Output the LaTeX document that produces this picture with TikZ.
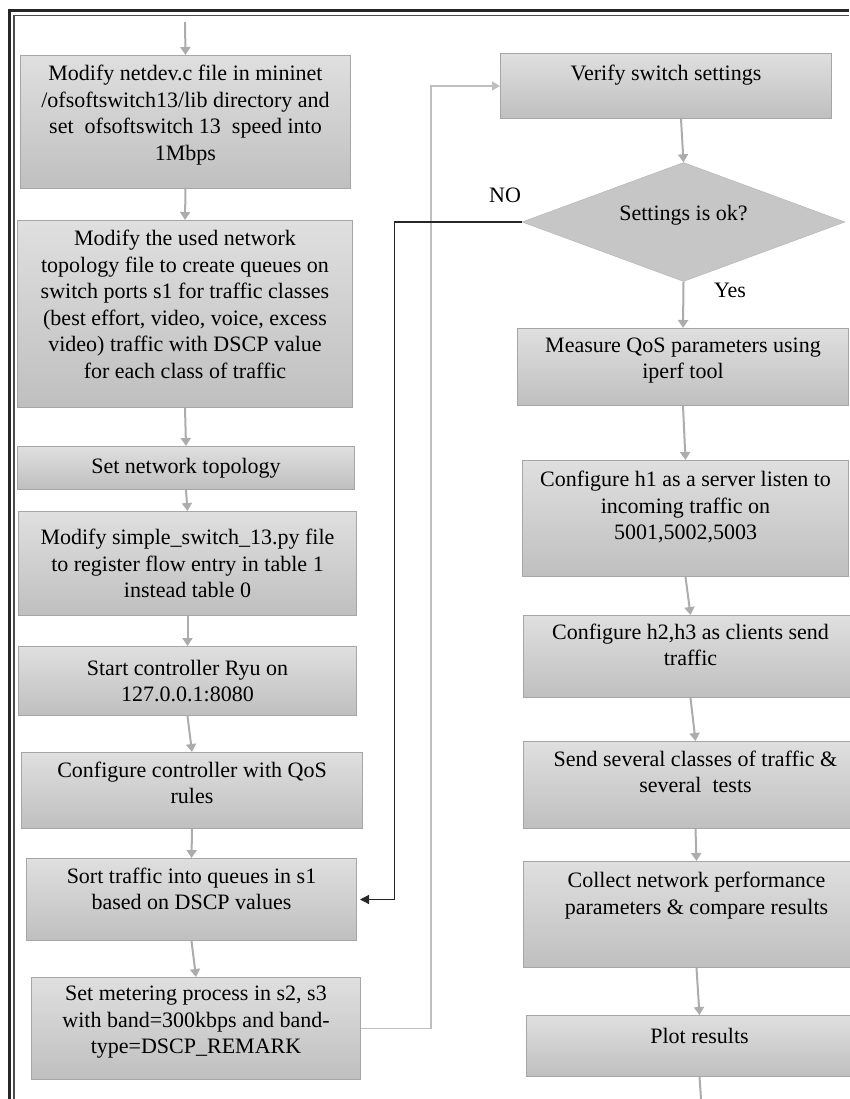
\documentclass[tikz,border=0pt]{standalone}
\usepackage{fontspec}
\setmainfont{Liberation Serif}
\usetikzlibrary{calc}
\usetikzlibrary{shapes.geometric, arrows.meta}

\newcommand{\boxfont}{\fontsize{22}{26.5}\selectfont}
\newcommand{\padline}[1]{\\[#1]\mbox{}}

\tikzstyle{stepbox} = [rectangle, 
anchor=north west, 
align=center, 
inner sep=0pt, 
draw=gray!70, 
line width=1pt, 
top color=gray!25, 
bottom color=gray!50, 
font=\boxfont]
\tikzstyle{decision} = [diamond, 
aspect=2.7, 
minimum width=323pt, 
minimum height=119pt, 
inner sep=0pt, 
align=center, 
draw=gray!60, 
fill=gray!45, 
font=\boxfont]
\tikzstyle{lbl} = [font=\boxfont, inner sep=0pt]
\tikzstyle{arrow} = [line width=2pt, gray!65, -{Triangle[width=10pt,length=8pt]}]
\tikzstyle{looparrow} = [line width=1.5pt, gray!50, -{Triangle[width=9pt,length=8pt]}]
\tikzstyle{noarrow} = [line width=1.3pt, black!85, -{Triangle[width=9pt,length=9pt]}, shorten >=3pt]

\begin{document}
\begin{tikzpicture}[x=1pt, y=-1pt]
    \useasboundingbox (0,0) rectangle (849,1099);

    % page frame
    \draw [line width=2.4pt, black!85] (9.5,1099) -- (9.5,10.5) -- (849,10.5);
    \draw [line width=1.2pt, black!70] (14,1099) -- (14,15.5) -- (849,15.5);

    % left column
    \coordinate (start) at (185,22);
    \node (modnet) [stepbox, minimum width=330pt, minimum height=133pt] at (20,55)
        {Modify netdev.c file in mininet\\/ofsoftswitch13/lib directory and\\set\ \ ofsoftswitch 13\ \ speed into\\1Mbps\padline{-8pt}};
    \node (modtopo) [stepbox, minimum width=335pt, minimum height=187pt] at (17,220)
        {Modify the used network\\topology file to create queues on\\switch ports s1 for traffic classes\\(best effort, video, voice, excess\\video) traffic with DSCP value\\for each class of traffic\padline{-7pt}};
    \node (settopo) [stepbox, minimum width=337pt, minimum height=43pt] at (17,446)
        {Set network topology};
    \node (modryu) [stepbox, minimum width=338pt, minimum height=104pt] at (18,511)
        {Modify simple\_switch\_13.py file\\to register flow entry in table 1\\instead table 0};
    \node (startryu) [stepbox, minimum width=338pt, minimum height=69pt] at (18,646)
        {Start controller Ryu on\\127.0.0.1:8080};
    \node (confqos) [stepbox, minimum width=341pt, minimum height=76pt] at (21,752)
        {Configure controller with QoS\\rules\padline{-11pt}};
    \node (sortq) [stepbox, minimum width=330pt, minimum height=82pt] at (26,858)
        {Sort traffic into queues in s1\\based on DSCP values\padline{-5pt}};
    \node (meter) [stepbox, minimum width=329pt, minimum height=102pt] at (31,977)
        {Set metering process in s2, s3\\with band=300kbps and band-\\type=DSCP\_REMARK\padline{-9pt}};

    % right column
    \node (verify) [stepbox, minimum width=331pt, minimum height=65pt] at (500,53)
        {Verify switch settings\padline{-1pt}};
    \node (chk) [decision] at (683.5,222) {Settings is ok?\padline{-8pt}};
    \node (measure) [stepbox, minimum width=331pt, minimum height=77pt] at (517,328)
        {Measure QoS parameters using\\iperf tool\padline{-9pt}};
    \node (confh1) [stepbox, minimum width=326pt, minimum height=116pt] at (522,460)
        {Configure h1 as a server listen to\\incoming traffic on\\5001,5002,5003\padline{0pt}};
    \node (confh2) [stepbox, minimum width=334pt, minimum height=82pt] at (523,615)
        {Configure h2,h3 as clients send\\traffic\padline{-3pt}};
    \node (sendtr) [stepbox, minimum width=344pt, minimum height=87pt] at (523,741)
        {Send several classes of traffic \&\\several\ \ tests\padline{0pt}};
    \node (collect) [stepbox, minimum width=346pt, minimum height=106pt] at (523,861)
        {Collect network performance\\parameters \& compare results\padline{16pt}};
    \node (plot) [stepbox, minimum width=346pt, minimum height=61pt] at (526,1015)
        {Plot results\padline{-7pt}};
    \coordinate (finish) at (701,1099);

    % branch labels
    \node (nolbl) [lbl] at (505,195) {NO};
    \node (yeslbl) [lbl] at (730,290) {Yes};

    % main flow
    \draw [arrow] (start) -- (modnet.north);
    \draw [arrow] (modnet.south) -- (modtopo.north);
    \draw [arrow] (modtopo.south) -- (settopo.north);
    \draw [arrow] (settopo.south) -- (modryu.north);
    \draw [arrow] (modryu.south) -- (startryu.north);
    \draw [arrow] (startryu.south) -- (confqos.north);
    \draw [arrow] (confqos.south) -- (sortq.north);
    \draw [arrow] (sortq.south) -- (meter.north);

    % jump to the right column
    \draw [looparrow] (meter.east) -- ++(70,0) |- (verify.west);

    \draw [arrow] ($(verify.south) + (15,0)$) -- (chk.north);
    \draw [arrow] (chk.south) -- (measure.north);
    \draw [arrow] (measure.south) -- (confh1.north);
    \draw [arrow] (confh1.south) -- (confh2.north);
    \draw [arrow] (confh2.south) -- (sendtr.north);
    \draw [arrow] (sendtr.south) -- (collect.north);
    \draw [arrow] (collect.south) -- (plot.north);
    \draw [line width=2pt, gray!65] (plot.south) -- (finish);

    % settings not ok
    \draw [noarrow] (chk.west) -- ++(-127,0) |- (sortq.east);
\end{tikzpicture}
\end{document}
